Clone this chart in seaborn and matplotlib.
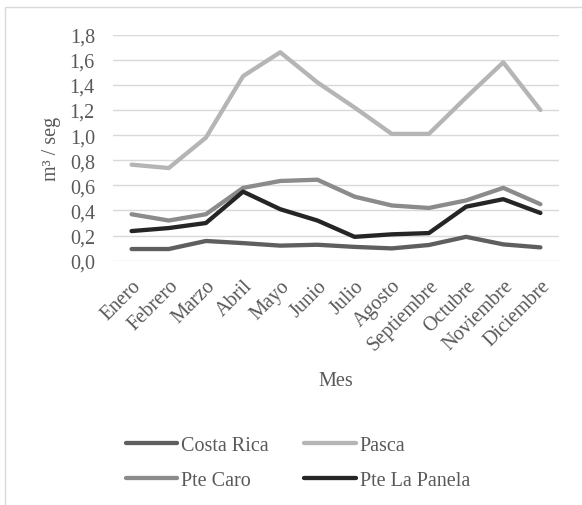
import matplotlib
matplotlib.use("Agg")
import matplotlib.pyplot as plt
import seaborn as sns
import pandas as pd
from matplotlib.patches import Rectangle
from matplotlib.lines import Line2D
from matplotlib.ticker import FuncFormatter, MultipleLocator

meses = ["Enero", "Febrero", "Marzo", "Abril", "Mayo", "Junio", "Julio",
         "Agosto", "Septiembre", "Octubre", "Noviembre", "Diciembre"]
costa_rica = [0.093, 0.093, 0.157, 0.14, 0.12, 0.127, 0.11, 0.098, 0.125, 0.19, 0.13, 0.106]
pasca = [0.765, 0.738, 0.98, 1.47, 1.66, 1.42, 1.22, 1.01, 1.01, 1.30, 1.58, 1.20]
pte_caro = [0.37, 0.32, 0.37, 0.58, 0.635, 0.645, 0.51, 0.44, 0.42, 0.48, 0.58, 0.45]
pte_la_panela = [0.236, 0.26, 0.30, 0.55, 0.41, 0.32, 0.19, 0.21, 0.22, 0.43, 0.49, 0.38]
series_names = ["Costa Rica", "Pasca", "Pte Caro", "Pte La Panela"]
colors = ["#5f5f5f", "#b5b5b5", "#8b8b8b", "#252525"]

rows = []
for name, vals in zip(series_names, [costa_rica, pasca, pte_caro, pte_la_panela]):
    for m, v in zip(meses, vals):
        rows.append({"Mes": m, "Serie": name, "Valor": v})
df = pd.DataFrame(rows)

sns.set_style("white")
plt.rcParams["font.family"] = ["Liberation Serif", "DejaVu Serif"]
FS = 14.5
TXT = "#595959"
LW = 3.1

fig = plt.figure(figsize=(5.82, 5.06), dpi=100)
ax = fig.add_axes([113 / 582, 1 - 261.7 / 506, (559 - 113) / 582, (261.7 - 35.7) / 506])

sns.lineplot(data=df, x="Mes", y="Valor", hue="Serie", hue_order=series_names,
             palette=colors, linewidth=LW, sort=False, ax=ax, legend=False)

ax.set_xlim(-0.5, 11.5)
ax.set_ylim(0, 1.8)
ax.yaxis.set_major_locator(MultipleLocator(0.2))
ax.yaxis.set_major_formatter(FuncFormatter(lambda v, p: f"{v:.1f}".replace(".", ",")))
ax.grid(axis="y", color="#d9d9d9", linewidth=1.0)
ax.set_axisbelow(True)
for s in ["left", "right", "top", "bottom"]:
    ax.spines[s].set_visible(False)
ax.tick_params(axis="both", length=0, labelsize=FS, colors=TXT)
ax.tick_params(axis="y", pad=13)
ax.tick_params(axis="x", pad=11)
ax.set_xticks(range(len(meses)))
ax.set_xticklabels(meses, rotation=45, ha="right", rotation_mode="anchor")

ax.set_xlabel("Mes", fontsize=FS, color=TXT, va="center")
ax.xaxis.set_label_coords(0.5, (261.7 - 381) / 226)
ax.set_ylabel("m³ / seg", fontsize=FS, color=TXT)
ax.yaxis.set_label_coords((61 - 113) / 446, 0.5)

handles = [Line2D([0], [0], color=c, linewidth=LW) for c in colors]
order = [0, 2, 1, 3]
fig.legend([handles[i] for i in order], [series_names[i] for i in order],
           loc="upper left", bbox_to_anchor=(126 / 582, 1 - 437 / 506),
           borderaxespad=0, borderpad=0,
           ncol=2, frameon=False, fontsize=FS, handlelength=2.55, handletextpad=0.2,
           columnspacing=1.75, labelspacing=0.8, labelcolor=TXT)

fig.patches.append(Rectangle((5 / 582, -0.1), 1.2, 1 - 7.5 / 506 + 0.1, transform=fig.transFigure,
                             fill=False, edgecolor="#d9d9d9", linewidth=1.0))

fig.savefig("out.png", dpi=100)
